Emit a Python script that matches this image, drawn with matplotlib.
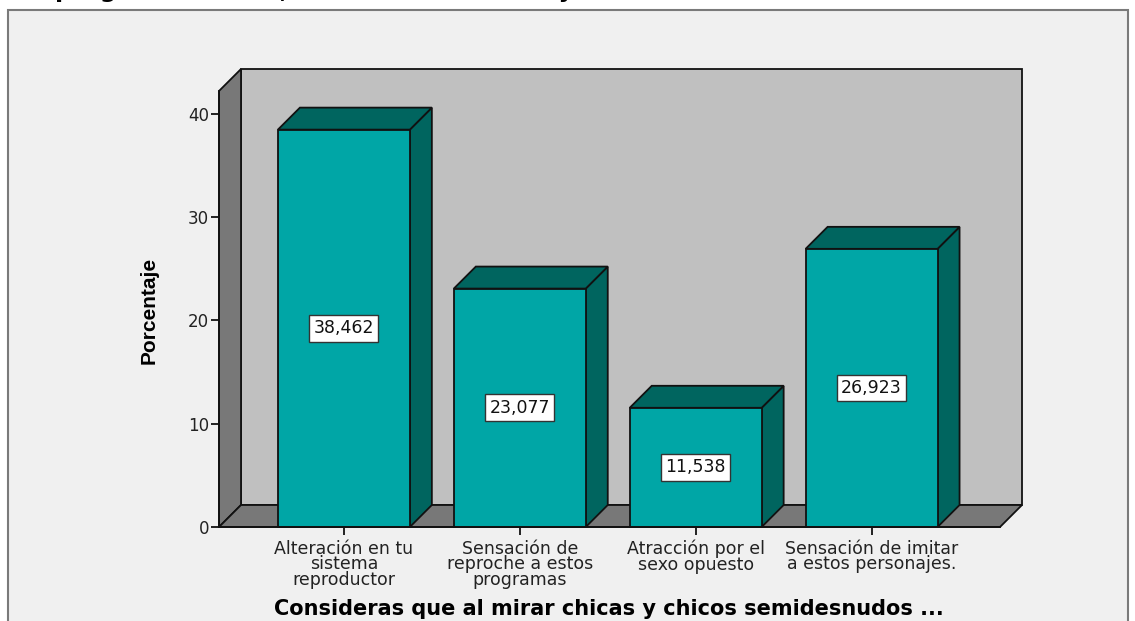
import matplotlib
matplotlib.use("Agg")
import matplotlib.pyplot as plt
from matplotlib.patches import Polygon, Rectangle

categories = [
    "Alteración en tu\nsistema\nreproductor",
    "Sensación de\nreproche a estos\nprogramas",
    "Atracción por el\nsexo opuesto",
    "Sensación de imitar\na estos personajes.",
]
values = [38.462, 23.077, 11.538, 26.923]
yticks = [0, 10, 20, 30, 40]
ylabel = "Porcentaje"
xlabel = "Consideras que al mirar chicas y chicos semidesnudos ..."
title = "programas de TV, tú sientes emoción y"

W, H = 1135, 621
fig = plt.figure(figsize=(W / 100, H / 100), dpi=100)
fig.patch.set_facecolor("white")

# outer frame
fig.patches.append(Rectangle((8 / W, -0.02), 1120 / W, (H - 10) / H + 0.02,
                             transform=fig.transFigure, facecolor="#f0f0f0",
                             edgecolor="#7a7a7a", linewidth=1.5, zorder=-5))

# partially cut title
fig.text(55 / W, 1 + 3 / H, title, fontsize=17, fontweight="bold",
         ha="left", va="baseline", color="black")

ax = fig.add_axes([219 / W, (H - 527) / H, 781 / W, 436 / H])
ax.set_zorder(1)
ax.patch.set_visible(False)
xmin, xmax = -0.71, 3.73
ymin, ymax = 0, 42.2
ax.set_xlim(xmin, xmax)
ax.set_ylim(ymin, ymax)

depth_px = 22
ddx = depth_px * (xmax - xmin) / 781
ddy = depth_px * (ymax - ymin) / 436

edge = "#111111"
lw = 1.3
wall_dark = "#787878"
wall_back = "#c0c0c0"
front_col = "#00a6a6"
dark_col = "#00655f"

# back wall
ax.add_patch(Polygon([(xmin + ddx, ddy), (xmax + ddx, ddy), (xmax + ddx, ymax + ddy),
                      (xmin + ddx, ymax + ddy)], closed=True, facecolor=wall_back,
                     edgecolor=edge, linewidth=lw, clip_on=False, zorder=1))
# left wall
ax.add_patch(Polygon([(xmin, 0), (xmin, ymax), (xmin + ddx, ymax + ddy), (xmin + ddx, ddy)],
                     closed=True, facecolor=wall_dark, edgecolor=edge, linewidth=lw,
                     clip_on=False, zorder=2))
# floor
ax.add_patch(Polygon([(xmin, 0), (xmax, 0), (xmax + ddx, ddy), (xmin + ddx, ddy)],
                     closed=True, facecolor=wall_dark, edgecolor=edge, linewidth=lw,
                     clip_on=False, zorder=2))

bw = 0.75
for i, v in enumerate(values):
    x0, x1 = i - bw / 2, i + bw / 2
    ax.add_patch(Polygon([(x1, 0), (x1 + ddx, ddy), (x1 + ddx, v + ddy), (x1, v)],
                         closed=True, facecolor=dark_col, edgecolor=edge, linewidth=lw,
                         clip_on=False, zorder=3))
    ax.add_patch(Polygon([(x0, v), (x1, v), (x1 + ddx, v + ddy), (x0 + ddx, v + ddy)],
                         closed=True, facecolor=dark_col, edgecolor=edge, linewidth=lw,
                         clip_on=False, zorder=3))
    ax.add_patch(Rectangle((x0, 0), bw, v, facecolor=front_col, edgecolor=edge,
                           linewidth=lw, clip_on=False, zorder=4))
    ax.text(i, v / 2, f"{v:.3f}".replace(".", ","), ha="center", va="center",
            fontsize=12.5, color="#111111", zorder=6,
            bbox=dict(boxstyle="square,pad=0.25", facecolor="white",
                      edgecolor="#333333", linewidth=1.0))

for s in ["top", "right"]:
    ax.spines[s].set_visible(False)
for s in ["left", "bottom"]:
    ax.spines[s].set_color(edge)
    ax.spines[s].set_linewidth(lw)
    ax.spines[s].set_zorder(5)

ax.set_yticks(yticks)
ax.set_yticklabels([str(t) for t in yticks])
ax.set_xticks(range(len(categories)))
ax.set_xticklabels(categories, linespacing=0.83)
ax.tick_params(axis="y", direction="out", length=6, width=1.3, color=edge,
               labelsize=12, labelcolor="#222222", pad=1)
ax.tick_params(axis="x", direction="out", length=6, width=1.3, color=edge,
               labelsize=12.5, labelcolor="#222222", pad=3)

fig.text(149 / W, 1 - 310 / H, ylabel, rotation=90, ha="center", va="center",
         fontsize=15, fontweight="bold", family=["Liberation Sans", "DejaVu Sans"])
fig.text(609 / W, 1 - 609 / H, xlabel, ha="center", va="center",
         fontsize=15, fontweight="bold")

fig.savefig("out.png", dpi=100)
